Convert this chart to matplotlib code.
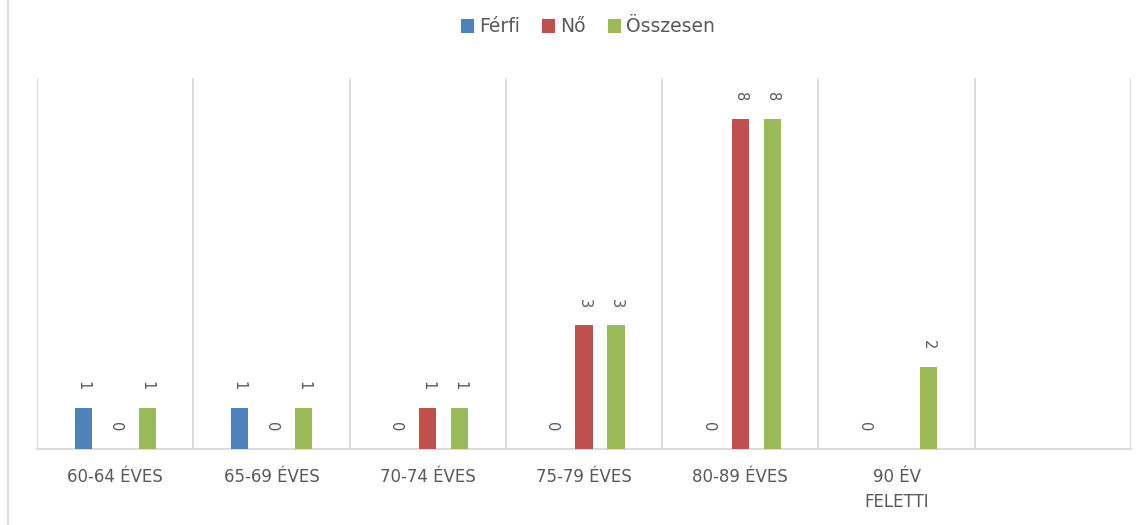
import numpy as np
import matplotlib
matplotlib.use("Agg")
from matplotlib import pyplot as plt
from matplotlib.lines import Line2D

# data
categories = ["60-64 ÉVES", "65-69 ÉVES", "70-74 ÉVES", "75-79 ÉVES",
              "80-89 ÉVES", "90 ÉV\nFELETTI", ""]
ferfi = [1, 1, 0, 0, 0, 0, np.nan]
no = [0, 0, 1, 3, 8, np.nan, np.nan]
osszesen = [1, 1, 1, 3, 8, 2, np.nan]

series_names = ["Férfi", "Nő", "Összesen"]
colors = ["#4F81BD", "#C0504D", "#9BBB59"]
text_color = "#595959"
grid_color = "#D9D9D9"

fig = plt.figure(figsize=(11.45, 5.25), dpi=100)
ax = fig.add_axes([37 / 1145, 76 / 525, 1094 / 1145, 371 / 525])

x = np.arange(len(categories))
offsets = [-0.205, 0, 0.205]
bar_w = 0.11

for vals, off, col, name in zip([ferfi, no, osszesen], offsets, colors, series_names):
    vals = np.array(vals, dtype=float)
    ax.bar(x + off, np.nan_to_num(vals), width=bar_w, color=col, label=name, zorder=3)
    for xi, v in zip(x, vals):
        if np.isnan(v):
            continue
        ax.annotate(f"{int(v)}", (xi + off, v), xytext=(0, 16), textcoords="offset points",
                    ha="center", va="center", rotation=-90, fontsize=10.5,
                    color=text_color)

ax.set_xlim(-0.5, len(categories) - 0.5)
ax.set_ylim(0, 9)
ax.set_yticks([])
ax.set_xticks(x)
ax.set_xticklabels(categories, fontsize=12, color=text_color, linespacing=1.5)
ax.tick_params(axis="x", length=0, pad=14)

# vertical separators between categories
for b in np.arange(-0.5, len(categories), 1):
    ax.axvline(b, color=grid_color, lw=1.3, zorder=1)

for s in ["top", "left", "right"]:
    ax.spines[s].set_visible(False)
ax.spines["bottom"].set_color(grid_color)
ax.spines["bottom"].set_linewidth(1.3)

# outer chart border (left edge visible)
fig.add_artist(Line2D([7.5 / 1145, 7.5 / 1145], [0, 1], color=grid_color, lw=1.3))

handles, labels = ax.get_legend_handles_labels()
fig.legend(handles, labels, loc="center", bbox_to_anchor=(588 / 1145, 1 - 27 / 525),
           ncol=3, frameon=False, fontsize=13.5, labelcolor=text_color,
           handlelength=0.7, handleheight=0.7, handletextpad=0.25, columnspacing=1.2)

fig.savefig("out.png", dpi=100)
